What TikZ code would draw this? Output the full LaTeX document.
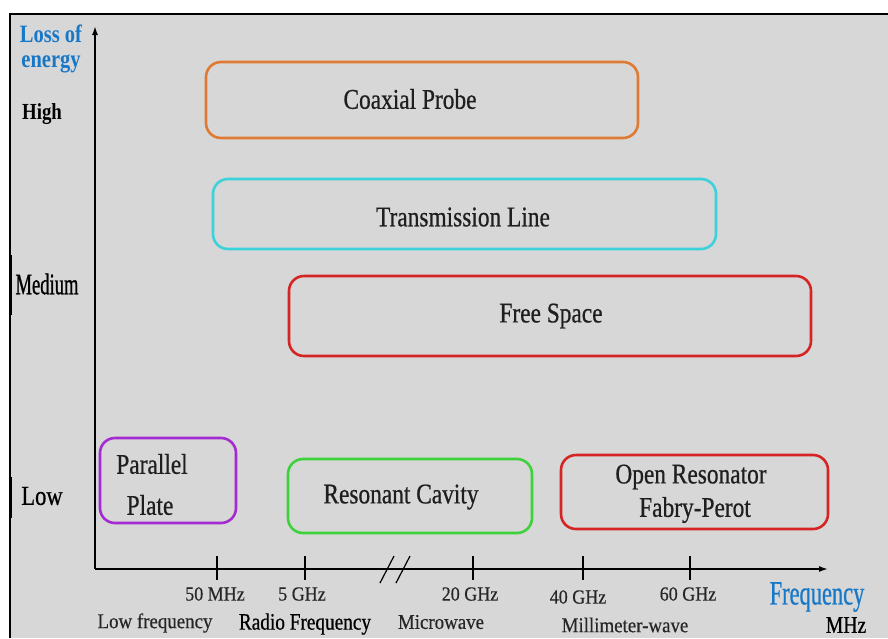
\documentclass[tikz,border=0pt]{standalone}
\usepackage{fontspec}
\setmainfont{Liberation Serif}
\newfontfamily\condA[FakeStretch=0.82]{Liberation Serif}
\newfontfamily\condAb[FakeStretch=0.82,FakeBold=0.6]{Liberation Serif}
\newfontfamily\condB[FakeStretch=0.9,FakeBold=0.4]{Liberation Serif}
\newfontfamily\condC[FakeStretch=0.66,FakeBold=0.6]{Liberation Serif}
\newfontfamily\condD[FakeStretch=0.62,FakeBold=0.8]{Liberation Serif}
\usetikzlibrary{arrows.meta}
\definecolor{bggray}{HTML}{D7D7D7}
\definecolor{cOrange}{HTML}{DE7A34}
\definecolor{cCyan}{HTML}{3CD2DC}
\definecolor{cRed}{HTML}{D42424}
\definecolor{cPurple}{HTML}{A42AD2}
\definecolor{cGreen}{HTML}{3CD23C}
\definecolor{cBlue}{HTML}{1878C8}
\tikzset{
  rbox/.style={draw, line width=2.6pt, rounded corners=15pt, minimum width=#1, inner sep=0pt},
  lbl/.style={font=\condAb\fontsize{28.5}{33}\selectfont, text=black!88, align=center, inner sep=0pt},
  tick/.style={line width=1.5pt},
  ticklbl/.style={font=\condB\fontsize{20}{22}\selectfont, text=black!85, inner sep=0pt},
  bandlbl/.style={font=\condB\fontsize{21}{23}\selectfont, text=black!85, inner sep=0pt},
  axis/.style={line width=1.6pt, -{Latex[length=9pt,width=6pt]}},
}
\begin{document}
\begin{tikzpicture}[x=1pt,y=-1pt]
\useasboundingbox (0,0) rectangle (888,638);
\fill[white] (0,0) rectangle (888,638);
\fill[bggray] (10,14) rectangle (888,638);
\draw[line width=2pt] (10,638) -- (10,14) -- (888,14);
% level bars
\draw[line width=2.5pt] (11,255) -- (11,315);
\draw[line width=2.5pt] (11,477) -- (11,518);
% axes
\coordinate (O) at (95,569);
\coordinate (Ytop) at (95,26);
\coordinate (Xend) at (828,569);
\draw[axis] (O) -- (Ytop);
\draw[axis] (O) -- (Xend);
% break marks
\coordinate (b1a) at (380,583); \coordinate (b1b) at (394,556);
\coordinate (b2a) at (396,583); \coordinate (b2b) at (410,556);
\draw[line width=1.2pt] (b1a) -- (b1b);
\draw[line width=1.2pt] (b2a) -- (b2b);
% ticks
\foreach \n/\x in {t50/217, t5g/305, t20/473, t40/583, t60/690}{
  \coordinate (\n a) at (\x,556); \coordinate (\n b) at (\x,580);
  \draw[tick] (\n a) -- (\n b);
}
% tick labels
\node[ticklbl] (l50) at (215,594) {50 MHz};
\node[ticklbl] (l5g) at (302,594) {5 GHz};
\node[ticklbl] (l20) at (470,594) {20 GHz};
\node[ticklbl] (l40) at (578,597) {40 GHz};
\node[ticklbl] (l60) at (688,594) {60 GHz};
% band labels
\node[bandlbl] (blow) at (155,623) {Low frequency};
\node[font=\condAb\fontsize{23.5}{25}\selectfont, text=black, inner sep=0pt] (brf) at (305,624) {Radio Frequency};
\node[bandlbl] (bmw) at (441,622) {Microwave};
\node[bandlbl] (bmm) at (625,625) {Millimeter-wave};
\node[font=\condC\fontsize{34}{36}\selectfont, text=cBlue, inner sep=0pt] (freq) at (817,597) {Frequency};
\node[font=\condAb\fontsize{24}{26}\selectfont, text=black, inner sep=0pt] (mhz) at (846,625) {MHz};
% y labels
\node[font=\condA\bfseries\fontsize{25}{25}\selectfont, text=cBlue, align=center, inner sep=0pt] (loss) at (51,49) {Loss of\\energy};
\node[font=\condA\bfseries\fontsize{23}{25}\selectfont, text=black, inner sep=0pt] (high) at (42,114) {High};
\node[font=\condD\fontsize{30}{32}\selectfont, text=black, inner sep=0pt] (med) at (47,284) {Medium};
\node[font=\condAb\fontsize{27.5}{29}\selectfont, text=black, inner sep=0pt] (low) at (42,496) {Low};
% boxes
\node[rbox=432pt, draw=cOrange, minimum height=76pt] (coax) at (422,100) {};
\node[lbl] (coaxT) at (410,99) {Coaxial Probe};
\node[rbox=503pt, draw=cCyan, minimum height=70pt] (tline) at (464.5,214) {};
\node[lbl] (tlineT) at (463,217) {Transmission Line};
\node[rbox=522pt, draw=cRed, minimum height=80pt] (free) at (550,316) {};
\node[lbl] (freeT) at (551,316) {Free Space};
\node[rbox=136pt, draw=cPurple, minimum height=85pt] (pp) at (168,480.5) {};
\node[lbl] (ppT1) at (152,464) {Parallel};
\node[lbl] (ppT2) at (150,505) {Plate};
\node[rbox=244pt, draw=cGreen, minimum height=74pt] (rc) at (410,496) {};
\node[lbl] (rcT) at (401,497) {Resonant Cavity};
\node[rbox=267pt, draw=cRed, minimum height=74pt] (orf) at (694.5,492) {};
\node[lbl] (orfT1) at (691,477) {Open Resonator};
\node[lbl] (orfT2) at (695,510) {Fabry-Perot};
\end{tikzpicture}
\end{document}
